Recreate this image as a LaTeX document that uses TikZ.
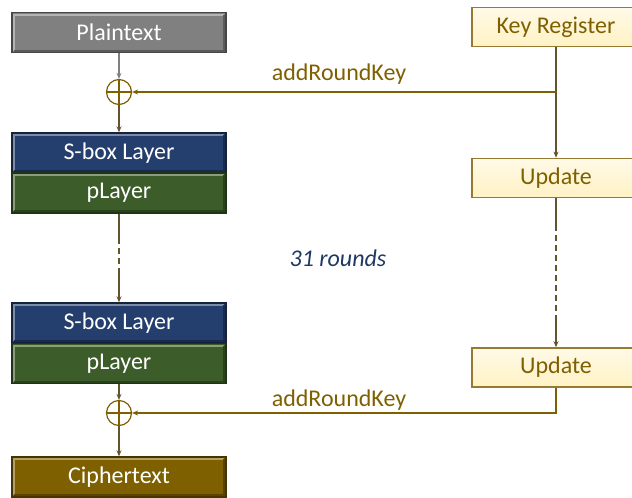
\documentclass[tikz,border=0pt]{standalone}
\usepackage{fontspec}
\setmainfont{Carlito}
\usetikzlibrary{arrows.meta}
\definecolor{plaingray}{RGB}{128,128,128}
\definecolor{sboxblue}{RGB}{36,62,110}
\definecolor{pgreen}{RGB}{60,92,42}
\definecolor{cipherbrown}{RGB}{127,96,0}
\definecolor{keycream}{RGB}{255,242,196}
\definecolor{keyedge}{RGB}{150,122,50}
\definecolor{olive}{RGB}{127,96,0}
\definecolor{flowcol}{RGB}{100,84,45}
\definecolor{roundblue}{RGB}{31,56,100}

\begin{document}
\begin{tikzpicture}[x=0.5pt, y=-0.5pt, >={Stealth[length=3pt,width=2.5pt]},
	txt/.style={font=\fontsize{12}{14}\selectfont},
	layer/.style={txt, draw=#1!55!black, line width=0.7pt, fill=#1, text=white, minimum width=107pt, minimum height=20pt, inner sep=0pt,
		path picture={\draw [#1!60!white, line width=1pt] ([xshift=1pt,yshift=1pt]path picture bounding box.south west) |- ([xshift=-1pt,yshift=-1pt]path picture bounding box.north east);
			\draw [#1!70!black, line width=1pt] ([xshift=1pt,yshift=1pt]path picture bounding box.south west) -| ([xshift=-1pt,yshift=-1pt]path picture bounding box.north east);}},
	keybox/.style={txt, draw=keyedge, line width=0.8pt, top color=keycream!40!white, bottom color=keycream, text=olive, minimum width=84pt, minimum height=19.5pt, inner sep=0pt},
	xorop/.style={circle, draw=olive, line width=0.6pt, minimum size=12.5pt, inner sep=0pt,
		path picture={\draw [olive, line width=0.6pt] (path picture bounding box.north) -- (path picture bounding box.south) (path picture bounding box.west) -- (path picture bounding box.east);}},
	flow/.style={flowcol, line width=0.6pt},
	keyline/.style={olive, line width=0.6pt}]
	\useasboundingbox (0,0) rectangle (632,498);
	% cipher datapath
	\node [layer=plaingray] (plain) at (119,32.5) {Plaintext};
	\node [xorop] (xor1) at (119,92) {};
	\node [layer=sboxblue] (sbox1) at (119,153) {S-box Layer};
	\node [layer=pgreen] (perm1) at (119,193) {pLayer};
	\node [layer=sboxblue] (sbox2) at (119,323) {S-box Layer};
	\node [layer=pgreen] (perm2) at (119,363.5) {pLayer};
	\node [xorop] (xor2) at (119,413) {};
	\node [layer=cipherbrown] (cipher) at (119,477) {Ciphertext};
	% key schedule
	\node [keybox] (keyreg) at (556,27) {Key Register};
	\node [keybox] (upd1) at (556,178) {Update};
	\node [keybox] (upd2) at (556,367.5) {Update};
	\coordinate (l1) at (119,238);
	\coordinate (l2) at (119,272);
	\coordinate (r1) at (556,225);
	\coordinate (r2) at (556,317);
	% labels
	\node [txt, text=olive] (ark1) at (339,74) {addRoundKey};
	\node [txt, text=olive] (ark2) at (339,400) {addRoundKey};
	\node [txt, text=roundblue, font=\fontsize{12}{14}\selectfont\itshape] (rounds) at (338,258) {31 rounds};
	% connectors
	\draw [->, plaingray, line width=0.6pt] (plain.south) -- (xor1.north);
	\draw [->, flow] (xor1.south) -- (sbox1.north);
	\draw [flow] (perm1.south) -- (l1);
	\draw [flow, densely dashed] (l1) -- (l2);
	\draw [->, flow] (l2) -- (sbox2.north);
	\draw [->, flow] (perm2.south) -- (xor2.north);
	\draw [->, flow] (xor2.south) -- (cipher.north);
	\draw [->, flow] (keyreg.south) -- (upd1.north);
	\draw [flow] (upd1.south) -- (r1);
	\draw [flow, densely dashed] (r1) -- (r2);
	\draw [->, flow] (r2) -- (upd2.north);
	\draw [->, keyline] (keyreg.south |- xor1) -- (xor1.east);
	\draw [->, keyline] (upd2.south) |- (xor2.east);
\end{tikzpicture}
\end{document}
